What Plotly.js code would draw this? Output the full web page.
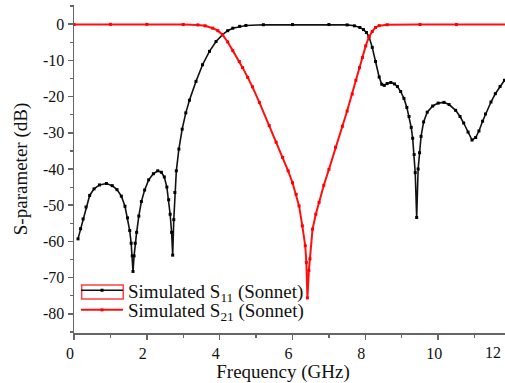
<!DOCTYPE html>
<html>
<head>
<meta charset="utf-8">
<script src="https://cdn.plot.ly/plotly-3.0.1.min.js"></script>
<style>
html,body{margin:0;padding:0;overflow:hidden;background:#fff;width:505px;height:383px;}
#chart{width:512px;height:383px;}
</style>
</head>
<body>
<div id="chart"></div>
<script>
// S11 (black) frequency (GHz) and magnitude (dB)
var freqS11 = [0.11,0.18,0.25,0.33,0.43,0.55,0.7,0.89,1.05,1.18,1.3,1.4,1.47,1.53,1.57,1.6,1.62,1.65,1.68,1.72,1.78,1.85,1.94,2.05,2.18,2.3,2.4,2.48,2.55,2.6,2.64,2.68,2.71,2.74,2.77,2.81,2.88,2.97,3.07,3.17,3.35,3.53,3.72,3.9,4.08,4.22,4.36,4.55,4.72,5.2,6.0,7.0,7.5,7.7,7.85,7.95,8.03,8.1,8.19,8.28,8.38,8.45,8.52,8.6,8.7,8.8,8.88,8.97,9.06,9.14,9.2,9.26,9.3,9.34,9.37,9.41,9.45,9.49,9.53,9.6,9.7,9.85,10.0,10.16,10.3,10.48,10.6,10.7,10.82,10.93,11.03,11.12,11.22,11.3,11.45,11.57,11.7,11.82,12.0];
var s11 = [-59.3,-56.5,-53.8,-50.5,-47.3,-45.5,-44.4,-44.0,-44.6,-45.7,-47.5,-50.3,-53.5,-57,-60.5,-64,-68.3,-64,-60.5,-57.5,-53,-49,-45.8,-43,-41.3,-40.5,-40.9,-42.2,-45,-48.5,-52.5,-57.5,-63.8,-54,-46.5,-40.5,-34.5,-29,-24.5,-21,-15.8,-11.2,-7.5,-4.8,-2.9,-1.8,-1.1,-0.6,-0.35,-0.15,-0.1,-0.1,-0.2,-0.45,-0.9,-1.5,-2.3,-3.4,-6.4,-10.3,-14.6,-16.6,-16.9,-16.4,-16.1,-16.5,-17.2,-18.6,-20.5,-23,-25.5,-28.5,-31.5,-36,-41,-53.4,-40,-35.5,-31,-27,-24.3,-22.6,-21.8,-21.6,-22.2,-23.8,-25.5,-27.3,-29.8,-32.0,-31.3,-29.5,-26.8,-24.8,-21.5,-19.2,-17.2,-15.5,-13.5];

// S21 (red) frequency (GHz) and magnitude (dB)
var freqS21 = [0.0,1.0,2.0,3.0,3.4,3.6,3.81,3.95,4.08,4.22,4.36,4.54,4.63,4.77,4.9,5.09,5.36,5.55,5.73,5.88,6.0,6.1,6.18,6.27,6.35,6.38,6.41,6.45,6.48,6.55,6.64,6.73,6.86,7.0,7.18,7.37,7.5,7.64,7.74,7.84,7.92,8.01,8.1,8.19,8.28,8.38,8.6,9.5,10.5,12.0];
var s21 = [-0.1,-0.05,-0.05,-0.1,-0.2,-0.45,-1.1,-1.8,-2.9,-4.9,-7.3,-10.3,-12.0,-14.7,-17.3,-21.6,-28.0,-32.6,-36.8,-40.5,-43.8,-47,-50.2,-55.7,-61.2,-65.8,-75.6,-68,-64.8,-56.6,-52.5,-49.2,-44.5,-40.1,-34,-28.2,-24,-19.3,-15.5,-12,-9.2,-6,-3.5,-2.0,-0.9,-0.4,-0.15,-0.1,-0.1,-0.1];

var seriesNames = ['Simulated S<sub>11</sub> (Sonnet)', 'Simulated S<sub>21</sub> (Sonnet)'];
var xTicks = [0,2,4,6,8,10,12];
var xTickText = ['0','2','4','6','8','10',''];
var yTicks = [0,-10,-20,-30,-40,-50,-60,-70,-80];

var SERIF = '"Liberation Serif", "Times New Roman", Times, serif';

var traces = [
  {x: freqS11, y: s11, type: 'scatter', mode: 'lines+markers', name: seriesNames[0], legend: 'legend',
   line: {color: '#111', width: 1.6}, marker: {symbol: 'square', size: 3, color: '#000'}},
  {x: freqS21, y: s21, type: 'scatter', mode: 'lines+markers', name: seriesNames[1], legend: 'legend2',
   line: {color: '#ff1010', width: 2}, marker: {symbol: 'square', size: 3, color: '#ff0000'}}
];

var axisCommon = {
  showgrid: false, zeroline: false, showline: true, linecolor: '#666', linewidth: 1.5,
  ticks: 'outside', ticklen: 5, tickwidth: 1.5, tickcolor: '#666',
  tickfont: {family: SERIF, size: 16, color: '#111'}
};

var legendCommon = {
  xanchor: 'left', yanchor: 'top', bgcolor: 'rgba(0,0,0,0)', borderwidth: 0,
  itemwidth: 42,
  font: {family: SERIF, size: 19, color: '#111'}
};

var layout = {
  width: 512, height: 383,
  margin: {l: 74, r: 1, t: 5, b: 50},
  paper_bgcolor: '#fff', plot_bgcolor: '#fff',
  showlegend: true,
  xaxis: Object.assign({}, axisCommon, {
    range: [0, 12], tickvals: xTicks, ticktext: xTickText,
    minor: {ticks: 'outside', ticklen: 3, tickwidth: 1.2, tickcolor: '#666', dtick: 1, tick0: 0},
    ticklabelshift: -4,
    title: {text: 'Frequency (GHz)&nbsp;&nbsp;&nbsp;&nbsp;', standoff: 6, font: {family: SERIF, size: 19, color: '#111'}}
  }),
  yaxis: Object.assign({}, axisCommon, {
    range: [-85.3, 5.3], tickvals: yTicks, ticktext: yTicks.map(String),
    minor: {ticks: 'outside', ticklen: 3, tickwidth: 1.2, tickcolor: '#666', dtick: 5, tick0: 0},
    title: {text: 'S-parameter (dB)', standoff: 10, font: {family: SERIF, size: 19, color: '#111'}}
  }),
  legend: Object.assign({}, legendCommon, {x: 0.0046, y: 0.188}),
  legend2: Object.assign({}, legendCommon, {x: 0.0046, y: 0.128}),
  annotations: [
    {text: '12', x: 12, xref: 'x', y: 0, yref: 'paper', yanchor: 'top', xanchor: 'right',
     xshift: -8, yshift: -9, showarrow: false, font: {family: SERIF, size: 16, color: '#111'}}
  ],
  shapes: [
    {type: 'rect', xref: 'paper', yref: 'paper', x0: 0.0176, x1: 0.1128, y0: 0.1037, y1: 0.146,
     line: {color: '#ff4040', width: 1.5}, fillcolor: 'rgba(0,0,0,0)'}
  ]
};

Plotly.newPlot('chart', traces, layout, {displayModeBar: false, staticPlot: true});
</script>
</body>
</html>
